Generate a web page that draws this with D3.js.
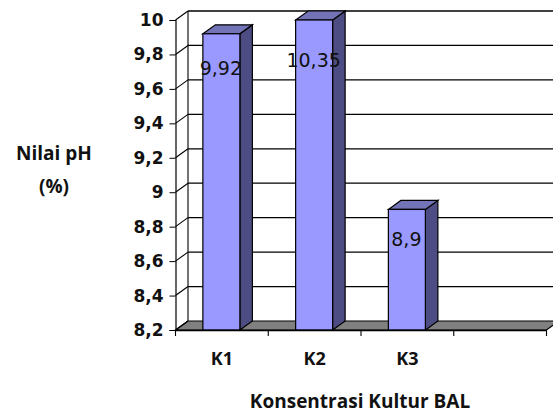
<!DOCTYPE html>
<html>
<head>
<meta charset="utf-8">
<script src="https://cdn.jsdelivr.net/npm/d3@7"></script>
<style>
html,body{margin:0;padding:0;background:#fff;}
svg{display:block;}
text{font-family:"Open Sans","Noto Sans",sans-serif;fill:#111;}
</style>
</head>
<body>
<svg id="c" width="553" height="414"></svg>
<script>
const categories = ["K1","K2","K3",""];
const barCategories = ["K1","K2","K3"];
const seriesValues = [9.92,10.35,8.9];
const valueLabels = ["9,92","10,35","8,9"];
const yTicks = [8.2,8.4,8.6,8.8,9,9.2,9.4,9.6,9.8,10];
const yTitleLines = ["Nilai pH","(%)"];
const xTitle = "Konsentrasi Kultur BAL";

const svg = d3.select("#c");
const x = d3.scaleBand().domain(categories).range([175.5,546.5]).paddingInner(0).paddingOuter(0);
const y = d3.scaleLinear().domain([8.2,10]).range([330,20]).clamp(true);
const dx = 12.5, dy = -9;
const barW = 37;
const fmt = v => String(v).replace(".",",");

svg.append("path")
  .attr("d",`M${x.range()[0]},${y(8.2)}L${x.range()[0]+dx},${y(8.2)+dy}L${x.range()[1]+dx},${y(8.2)+dy}L${x.range()[1]},${y(8.2)}Z`)
  .attr("fill","#808080").attr("stroke","#000").attr("stroke-width",1.2);

const grid = svg.append("g");
grid.selectAll("line.g").data(yTicks.slice(1)).join("line").attr("class","g")
  .attr("x1",x.range()[0]+dx).attr("x2",x.range()[1]+dx)
  .attr("y1",d=>y(d)+dy).attr("y2",d=>y(d)+dy)
  .attr("stroke","#000").attr("stroke-width",1.3);
grid.selectAll("line.d").data(yTicks).join("line").attr("class","d")
  .attr("x1",x.range()[0]).attr("x2",x.range()[0]+dx)
  .attr("y1",d=>y(d)).attr("y2",d=>y(d)+dy)
  .attr("stroke","#000").attr("stroke-width",1.1);
grid.append("line")
  .attr("x1",x.range()[0]+dx).attr("x2",x.range()[0]+dx)
  .attr("y1",y(10)+dy).attr("y2",y(8.2)+dy)
  .attr("stroke","#000").attr("stroke-width",1.1);

const bars = svg.selectAll("g.bar").data(barCategories).join("g").attr("class","bar");
const bx = c => x(c)+(x.bandwidth()-barW)/2-0.5;
const vy = (c,i) => y(seriesValues[i]);
bars.append("path").attr("fill","#4d4d84").attr("stroke","#000").attr("stroke-width",1.2)
  .attr("d",(c,i)=>{const l=bx(c)+barW,t=vy(c,i),b=y(8.2);return `M${l},${t}L${l+dx},${t+dy}L${l+dx},${b+dy}L${l},${b}Z`;});
bars.append("path").attr("fill","#7373b8").attr("stroke","#000").attr("stroke-width",1.2)
  .attr("d",(c,i)=>{const l=bx(c),t=vy(c,i);return `M${l},${t}L${l+dx},${t+dy}L${l+barW+dx},${t+dy}L${l+barW},${t}Z`;});
bars.append("rect").attr("fill","#9999ff").attr("stroke","#000").attr("stroke-width",1.2)
  .attr("x",bx).attr("y",vy).attr("width",barW).attr("height",(c,i)=>y(8.2)-vy(c,i));

const yAxis = d3.axisLeft(y).tickValues(yTicks).tickFormat(fmt).tickSize(6).tickPadding(6);
const gy = svg.append("g").attr("transform",`translate(${x.range()[0]},0)`).call(yAxis);
gy.selectAll("text").attr("font-size",17).attr("font-weight",700).style("font-family",'"DejaVu Sans",sans-serif').attr("fill","#222");
gy.select(".domain").attr("stroke","#000").attr("stroke-width",1.2);

const xAxis = d3.axisBottom(x).tickValues([]).tickSize(0);
const gx = svg.append("g").attr("transform",`translate(0,${y(8.2)})`).call(xAxis);
gx.select(".domain").attr("stroke","#000").attr("stroke-width",1.3);
svg.selectAll("line.xt").data(categories.concat(["end"])).join("line").attr("class","xt")
  .attr("x1",(c,i)=>x.range()[0]+i*x.step()).attr("x2",(c,i)=>x.range()[0]+i*x.step())
  .attr("y1",y(8.2)).attr("y2",y(8.2)+6).attr("stroke","#000").attr("stroke-width",1.1);

svg.selectAll("text.cat").data(barCategories).join("text").attr("class","cat")
  .attr("x",c=>x(c)+x.bandwidth()/2).attr("y",365).attr("text-anchor","middle")
  .attr("font-size",18).attr("font-weight",700).text(c=>c);

const labelOffset = [41,47,37];
svg.selectAll("text.val").data(barCategories).join("text").attr("class","val")
  .attr("x",c=>x(c)+x.bandwidth()/2-1).attr("text-anchor","middle")
  .attr("y",(c,i)=>vy(c,i)+labelOffset[i]).attr("font-size",19)
  .style("font-family",'"DejaVu Sans",sans-serif').text((c,i)=>valueLabels[i]);

svg.selectAll("text.yt").data(yTitleLines).join("text").attr("class","yt")
  .attr("x",54).attr("y",(d,i)=>160+i*33).attr("text-anchor","middle")
  .attr("font-size",19).attr("font-weight",700).text(d=>d);
svg.append("text").attr("x",360).attr("y",408).attr("text-anchor","middle")
  .attr("font-size",19).attr("font-weight",700).text(xTitle);
</script>
</body>
</html>
